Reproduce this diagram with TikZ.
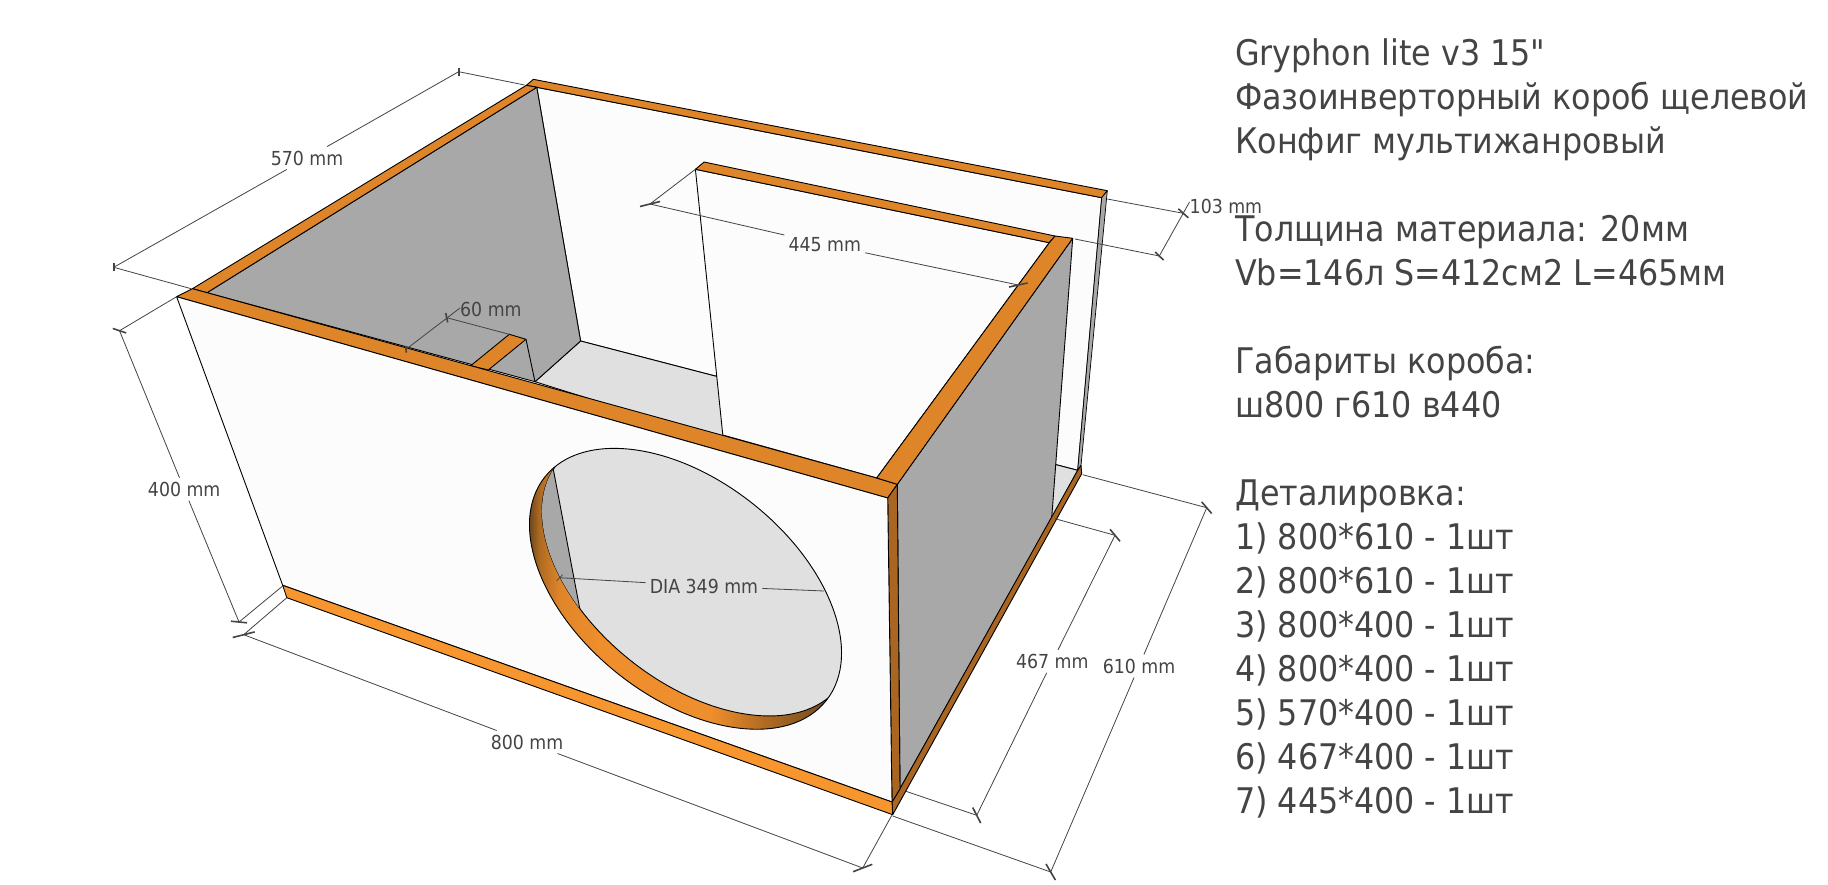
\documentclass[tikz,border=0pt]{standalone}
\usepackage{fontspec}
\newfontfamily\boxfont{DejaVu Sans Condensed}
\definecolor{rimtop}{HTML}{DF8529}
\definecolor{rimlow}{HTML}{F7962F}
\definecolor{sideedge}{HTML}{A96522}
\definecolor{holedark}{HTML}{6F4A1E}
\definecolor{holemid}{HTML}{B06B22}
\definecolor{holelit}{HTML}{EE8E2C}
\definecolor{wallgrey}{HTML}{A8A8A8}
\definecolor{floorgrey}{HTML}{E0E0E0}
\definecolor{panelwhite}{HTML}{FCFCFC}
\definecolor{inktext}{HTML}{444444}
\pgfdeclarehorizontalshading{holeshade}{100bp}{color(0bp)=(holedark);color(26.5bp)=(holedark);color(28bp)=(holemid);color(31bp)=(rimtop);color(37bp)=(holelit);color(54bp)=(holelit);color(62bp)=(holemid);color(72bp)=(holedark);color(100bp)=(holedark)}
\begin{document}
\begin{tikzpicture}[x=1pt,y=-1pt]
    \tikzstyle{every node}+=[inner sep=0pt]
    \tikzstyle{face}=[draw=black,line width=0.9pt,line join=round]
    \tikzstyle{rim}=[face,fill=rimtop]
    \tikzstyle{wall}=[face,fill=wallgrey]
    \tikzstyle{panel}=[face,fill=panelwhite]
    \tikzstyle{dimline}=[draw=inktext,line width=0.8pt]
    \tikzstyle{dimtick}=[draw=inktext,line width=1.6pt]
    \tikzstyle{dimlabel}=[text=inktext,inner sep=4pt,font=\boxfont\fontsize{19.3}{22}\selectfont]
    \tikzstyle{holeA}=[shift={(685.5,588.8)},rotate=-38.5]
    \tikzstyle{holeB}=[shift={(698,575.5)},rotate=-38.5]
    \useasboundingbox (0,0) rectangle (1828,884);
    \fill [white] (0,0) rectangle (1828,884);
    \draw [panel] (536.8,87.3) -- (1101.7,197.7) -- (1077.7,470.3) -- (580.6,341) -- cycle;
    \draw [face,fill=floorgrey] (580.6,341) -- (1077.7,470.3) -- (1040,540) -- (535,381.7) -- cycle;
    \draw [wall] (207,292.7) -- (536.8,87.3) -- (580.6,341) -- (535,381.7) -- cycle;
    \draw [panel] (695.4,169.3) -- (1049.3,242.7) -- (876.7,478) -- (722.8,435) -- cycle;
    \draw [rim] (704.1,162) -- (1055,236) -- (1049.3,242.7) -- (695.4,169.3) -- cycle;
    \draw [rim] (533.4,79.3) -- (1107.3,190.7) -- (1101.7,197.7) -- (536.8,87.3) -- (526.4,85.3) -- cycle;
    \draw [wall,line width=0.7pt] (1107.3,190.7) -- (1081,465.3) -- (1077.7,470.3) -- (1101.7,197.7) -- cycle;
    \draw [rim] (192.4,288.7) -- (526.4,85.3) -- (536.8,87.3) -- (207,292.7) -- cycle;
    \draw [rim] (509.3,334.3) -- (526,339.3) -- (488.3,370) -- (470.7,365.7) -- cycle;
    \draw [face] (526,339.3) -- (535,381.7);
    \draw [rim] (176.6,296.7) -- (192.4,288.7) -- (207,292.7) -- (876.7,478) -- (897.3,484.3) -- (887.7,498) -- cycle;
    \draw [wall] (1072.7,238.3) -- (1051.7,518) -- (900,788.7) -- (897.3,484.3) -- cycle;
    \draw [rim] (876.7,478) -- (1049.3,242.7) -- (1055,236) -- (1072.7,238.3) -- (897.3,484.3) -- cycle;
    \draw [face,fill=sideedge] (1081,465.3) -- (1081.7,473.7) -- (892.7,814.7) -- (892,802) -- (900,788.7) -- (1077.7,470.3) -- cycle;
    \draw [face,fill=sideedge] (887.7,498) -- (897.3,484.3) -- (900,788.7) -- (892,802) -- cycle;
    \draw [panel] (176.6,296.7) -- (887.7,498) -- (892,802) -- (282.7,585.3) -- cycle;
    \draw [face,fill=rimlow] (282.7,585.3) -- (892,802) -- (892.7,814.7) -- (286.8,597.7) -- cycle;
    \begin{scope}
        \clip [holeA] (0,0) ellipse [x radius=179.7,y radius=108.5];
        \shade [shading=holeshade] (520,440) rectangle (850,740);
        \draw [face,fill=floorgrey,holeB] (0,0) ellipse [x radius=179.7,y radius=108.5];
        \clip [holeB] (0,0) ellipse [x radius=179.7,y radius=108.5];
        \draw [wall] (553.3,469.3) -- (580,610) -- (500,610) -- (500,469.3) -- cycle;
    \end{scope}
    \draw [face,holeA] (0,0) ellipse [x radius=179.7,y radius=108.5];
    \coordinate (c570a) at (458.7,71.7);
    \coordinate (c570b) at (113.7,267.3);
    \coordinate (e570a) at (524.6,85);
    \coordinate (e570b) at (191.2,288.7);
    \node [dimlabel] (l570) at (307,158) {570 mm};
    \draw [dimline] (c570a) -- (l570);
    \draw [dimline] (l570) -- (c570b);
    \draw [dimline] (e570a) -- (c570a);
    \draw [dimline] (e570b) -- (c570b);
    \draw [dimtick] (c570a) ++(0,-4) -- ++(0,8);
    \draw [dimtick] (c570b) ++(0,-4) -- ++(0,8);
    \coordinate (c400a) at (119.5,330.7);
    \coordinate (c400b) at (239,622);
    \coordinate (e400a) at (176.6,296.7);
    \coordinate (e400b) at (282.7,586);
    \node [dimlabel] (l400) at (184.2,489.3) {400 mm};
    \draw [dimline] (c400a) -- (l400);
    \draw [dimline] (l400) -- (c400b);
    \draw [dimline] (e400a) -- (c400a);
    \draw [dimline] (e400b) -- (c400b);
    \draw [dimtick] (c400a) ++(-6.7,-2.2) -- ++(13.4,4.4);
    \draw [dimtick] (c400b) ++(-8,-0.8) -- ++(16,1.6);
    \coordinate (c800a) at (243.7,634.7);
    \coordinate (c800b) at (862.7,868);
    \coordinate (e800a) at (286.8,597.7);
    \coordinate (e800b) at (891.8,815.3);
    \node [dimlabel] (l800) at (527,742) {800 mm};
    \draw [dimline] (c800a) -- (l800);
    \draw [dimline] (l800) -- (c800b);
    \draw [dimline] (e800a) -- (c800a);
    \draw [dimline] (e800b) -- (c800b);
    \draw [dimtick] (c800a) ++(-11,2.8) -- ++(22,-5.6);
    \draw [dimtick] (c800b) ++(-9.6,3.7) -- ++(19.2,-7.4);
    \coordinate (c610a) at (1050.7,872);
    \coordinate (c610b) at (1206.7,507.7);
    \coordinate (e610a) at (892.7,816);
    \coordinate (e610b) at (1082.7,474.7);
    \node [dimlabel] (l610) at (1139,666) {610 mm};
    \draw [dimline] (c610a) -- (l610);
    \draw [dimline] (l610) -- (c610b);
    \draw [dimline] (e610a) -- (c610a);
    \draw [dimline] (e610b) -- (c610b);
    \draw [dimtick] (c610a) ++(-4.7,-8) -- ++(9.4,16);
    \draw [dimtick] (c610b) ++(-5,-5.8) -- ++(10,11.6);
    \coordinate (c467a) at (976.7,815.3);
    \coordinate (c467b) at (1115,535.3);
    \coordinate (e467a) at (906,791.3);
    \coordinate (e467b) at (1055,518.7);
    \node [dimlabel] (l467) at (1052.3,661.3) {467 mm};
    \draw [dimline] (c467a) -- (l467);
    \draw [dimline] (l467) -- (c467b);
    \draw [dimline] (e467a) -- (c467a);
    \draw [dimline] (e467b) -- (c467b);
    \draw [dimtick] (c467a) ++(-4,-7.8) -- ++(8,15.6);
    \draw [dimtick] (c467b) ++(-5,-6) -- ++(10,12);
    \coordinate (c445a) at (650,204);
    \coordinate (c445b) at (1018.3,285);
    \coordinate (e445a) at (695.4,169.3);
    \node [dimlabel] (l445) at (824.8,244.3) {445 mm};
    \draw [dimline] (c445a) -- (l445);
    \draw [dimline] (l445) -- (c445b);
    \draw [dimline] (e445a) -- (c445a);
    \draw [dimtick] (c445a) ++(-10,2.5) -- ++(20,-5);
    \draw [dimtick] (c445b) ++(-9.3,2) -- ++(18.6,-4);
    \coordinate (c60a) at (406,349.3);
    \coordinate (c60b) at (446.7,317.7);
    \coordinate (c60c) at (460,308);
    \coordinate (e60b) at (509.3,334.3);
    \node [dimlabel,anchor=west,inner sep=0pt] (l60) at (460,309) {60 mm};
    \draw [dimline] (c60a) -- (c60c);
    \draw [dimline] (e60b) -- (c60b);
    \draw [dimtick] (c60a) ++(-0.3,-3.3) -- ++(0.6,6.6);
    \draw [dimtick] (c60b) ++(-1,-4.7) -- ++(2,9.4);
    \coordinate (c103a) at (1183.3,213.3);
    \coordinate (c103b) at (1159.3,256);
    \coordinate (c103c) at (1189.5,202);
    \coordinate (e103a) at (1107.3,199);
    \coordinate (e103b) at (1075,239);
    \node [dimlabel,anchor=west,inner sep=0pt] (l103) at (1189.5,206.7) {103 mm};
    \draw [dimline] (c103b) -- (c103c);
    \draw [dimline] (e103a) -- (c103a);
    \draw [dimline] (e103b) -- (c103b);
    \draw [dimtick] (c103a) ++(-5,-4.5) -- ++(10,9);
    \draw [dimtick] (c103b) ++(-4.2,-4) -- ++(8.4,8);
    \coordinate (cdiaa) at (559.6,577.7);
    \coordinate (cdiab) at (824.2,591);
    \node [dimlabel] (ldia) at (704,586) {DIA 349 mm};
    \draw [dimline] (cdiaa) -- (ldia);
    \draw [dimline] (ldia) -- (cdiab);
    \draw [dimtick,line width=0.8pt] (cdiaa) ++(-3,3) -- ++(6,-6);
    \node [anchor=north west,align=left,text=inktext,font=\boxfont\fontsize{35.3}{44}\selectfont] (notes) at (1235,38) {Gryphon lite v3 15"\\
        Фазоинверторный короб щелевой\\
        Конфиг мультижанровый\\
        ~\\
        Толщина материала: 20мм\\
        Vb=146л S=412см2 L=465мм\\
        ~\\
        Габариты короба:\\
        ш800 г610 в440\\
        ~\\
        Деталировка:\\
        1) 800*610 - 1шт\\
        2) 800*610 - 1шт\\
        3) 800*400 - 1шт\\
        4) 800*400 - 1шт\\
        5) 570*400 - 1шт\\
        6) 467*400 - 1шт\\
        7) 445*400 - 1шт};
\end{tikzpicture}
\end{document}
